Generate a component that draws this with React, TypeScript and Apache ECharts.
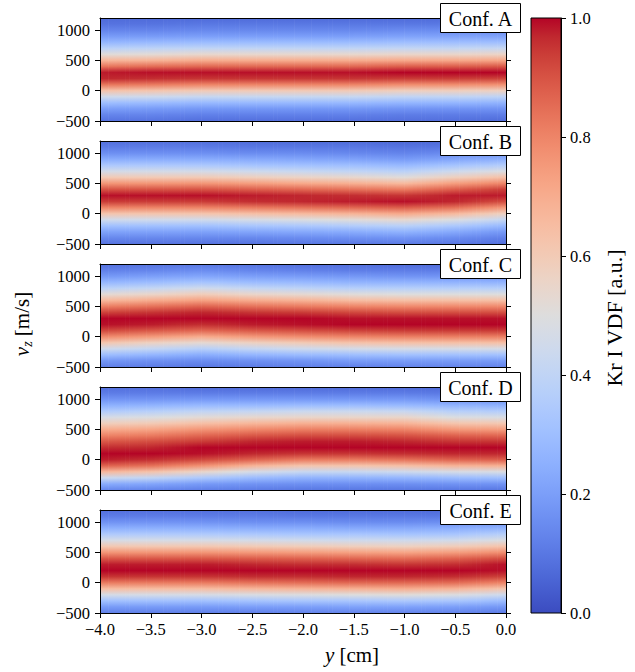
import React, { useEffect, useRef } from "react";
import * as echarts from "echarts";

// ---------------- data ----------------
// positions along y [cm] where the VDF columns were read
const xPositions = [-4, -3.5, -3, -2.5, -2, -1.5, -1, -0.5, 0];
// velocity levels v_z [m/s] (each column lists values from -500 up to 1200)
const vLevels = [-500, -400, -300, -200, -100, 0, 100, 200, 300, 400, 500, 600, 700, 800, 900, 1000, 1100, 1200];

const confNames = ["Conf. A", "Conf. B", "Conf. C", "Conf. D", "Conf. E"];

const confA = [
  [0.09, 0.13, 0.20, 0.30, 0.45, 0.63, 0.83, 0.97, 0.98, 0.83, 0.67, 0.51, 0.38, 0.27, 0.19, 0.13, 0.09, 0.07],
  [0.09, 0.13, 0.19, 0.29, 0.44, 0.62, 0.82, 0.96, 0.99, 0.85, 0.68, 0.52, 0.39, 0.28, 0.19, 0.13, 0.09, 0.07],
  [0.08, 0.12, 0.18, 0.28, 0.42, 0.60, 0.80, 0.95, 0.99, 0.86, 0.70, 0.54, 0.40, 0.29, 0.20, 0.14, 0.10, 0.07],
  [0.08, 0.12, 0.18, 0.28, 0.42, 0.60, 0.80, 0.95, 0.99, 0.86, 0.70, 0.54, 0.40, 0.29, 0.20, 0.14, 0.10, 0.07],
  [0.08, 0.12, 0.18, 0.28, 0.42, 0.60, 0.80, 0.95, 0.99, 0.86, 0.70, 0.54, 0.40, 0.29, 0.20, 0.14, 0.10, 0.07],
  [0.08, 0.12, 0.18, 0.28, 0.42, 0.60, 0.80, 0.95, 0.99, 0.86, 0.70, 0.54, 0.40, 0.29, 0.20, 0.14, 0.10, 0.07],
  [0.08, 0.11, 0.17, 0.27, 0.40, 0.58, 0.78, 0.94, 1.00, 0.88, 0.71, 0.55, 0.41, 0.30, 0.21, 0.15, 0.10, 0.07],
  [0.08, 0.11, 0.17, 0.27, 0.40, 0.58, 0.78, 0.94, 1.00, 0.88, 0.71, 0.55, 0.41, 0.30, 0.21, 0.15, 0.10, 0.07],
  [0.07, 0.11, 0.17, 0.26, 0.39, 0.57, 0.77, 0.93, 1.00, 0.89, 0.72, 0.56, 0.42, 0.30, 0.21, 0.15, 0.10, 0.07],
];

const confB = [
  [0.09, 0.14, 0.21, 0.31, 0.45, 0.62, 0.80, 0.94, 0.99, 0.90, 0.76, 0.60, 0.46, 0.34, 0.24, 0.16, 0.11, 0.08],
  [0.09, 0.14, 0.21, 0.31, 0.45, 0.62, 0.80, 0.94, 0.99, 0.90, 0.76, 0.60, 0.46, 0.34, 0.24, 0.16, 0.11, 0.08],
  [0.09, 0.14, 0.21, 0.31, 0.45, 0.62, 0.80, 0.94, 0.99, 0.90, 0.76, 0.60, 0.46, 0.34, 0.24, 0.16, 0.11, 0.08],
  [0.09, 0.14, 0.22, 0.33, 0.47, 0.64, 0.82, 0.96, 0.98, 0.88, 0.74, 0.58, 0.44, 0.32, 0.23, 0.15, 0.10, 0.07],
  [0.10, 0.15, 0.23, 0.34, 0.49, 0.66, 0.84, 0.97, 0.97, 0.86, 0.71, 0.56, 0.42, 0.31, 0.22, 0.15, 0.10, 0.07],
  [0.10, 0.16, 0.24, 0.36, 0.51, 0.68, 0.86, 0.98, 0.96, 0.84, 0.69, 0.54, 0.40, 0.30, 0.21, 0.14, 0.10, 0.07],
  [0.11, 0.17, 0.26, 0.38, 0.54, 0.71, 0.88, 0.99, 0.95, 0.82, 0.66, 0.51, 0.38, 0.28, 0.19, 0.13, 0.09, 0.06],
  [0.10, 0.15, 0.23, 0.34, 0.49, 0.66, 0.84, 0.97, 0.98, 0.88, 0.74, 0.58, 0.44, 0.32, 0.22, 0.15, 0.10, 0.07],
  [0.08, 0.12, 0.18, 0.28, 0.41, 0.57, 0.75, 0.91, 0.98, 0.94, 0.80, 0.64, 0.49, 0.36, 0.25, 0.17, 0.11, 0.07],
];

const confC = [
  [0.12, 0.18, 0.30, 0.45, 0.62, 0.79, 0.92, 0.99, 1.00, 0.93, 0.81, 0.66, 0.52, 0.38, 0.27, 0.18, 0.12, 0.08],
  [0.11, 0.16, 0.27, 0.41, 0.57, 0.75, 0.89, 0.98, 1.00, 0.95, 0.84, 0.70, 0.55, 0.41, 0.29, 0.20, 0.13, 0.09],
  [0.10, 0.15, 0.24, 0.37, 0.53, 0.70, 0.86, 0.96, 1.00, 0.97, 0.87, 0.73, 0.59, 0.45, 0.32, 0.22, 0.15, 0.10],
  [0.11, 0.16, 0.27, 0.41, 0.57, 0.75, 0.89, 0.98, 1.00, 0.95, 0.84, 0.70, 0.55, 0.41, 0.29, 0.20, 0.13, 0.09],
  [0.12, 0.17, 0.29, 0.44, 0.60, 0.78, 0.91, 0.99, 1.00, 0.94, 0.82, 0.68, 0.53, 0.39, 0.28, 0.19, 0.12, 0.08],
  [0.12, 0.19, 0.30, 0.46, 0.63, 0.80, 0.93, 1.00, 0.99, 0.92, 0.80, 0.65, 0.51, 0.37, 0.26, 0.18, 0.11, 0.08],
  [0.13, 0.19, 0.31, 0.47, 0.64, 0.81, 0.94, 1.00, 0.99, 0.91, 0.79, 0.64, 0.50, 0.37, 0.26, 0.17, 0.11, 0.07],
  [0.13, 0.19, 0.31, 0.47, 0.64, 0.81, 0.94, 1.00, 0.99, 0.91, 0.79, 0.64, 0.50, 0.37, 0.26, 0.17, 0.11, 0.07],
  [0.13, 0.19, 0.31, 0.47, 0.64, 0.81, 0.94, 1.00, 0.99, 0.91, 0.79, 0.64, 0.50, 0.37, 0.26, 0.17, 0.11, 0.07],
];

const confD = [
  [0.14, 0.24, 0.44, 0.67, 0.87, 0.98, 1.00, 0.96, 0.89, 0.80, 0.70, 0.58, 0.47, 0.35, 0.25, 0.17, 0.11, 0.08],
  [0.13, 0.22, 0.40, 0.63, 0.84, 0.96, 1.00, 0.97, 0.91, 0.82, 0.72, 0.60, 0.49, 0.37, 0.26, 0.17, 0.11, 0.08],
  [0.12, 0.19, 0.34, 0.55, 0.77, 0.92, 0.99, 1.00, 0.94, 0.86, 0.76, 0.64, 0.52, 0.40, 0.28, 0.18, 0.11, 0.07],
  [0.11, 0.17, 0.29, 0.47, 0.68, 0.87, 0.97, 1.00, 0.97, 0.89, 0.79, 0.67, 0.54, 0.41, 0.28, 0.18, 0.11, 0.07],
  [0.10, 0.16, 0.26, 0.42, 0.62, 0.82, 0.95, 1.00, 0.98, 0.91, 0.81, 0.69, 0.55, 0.43, 0.29, 0.18, 0.11, 0.07],
  [0.10, 0.16, 0.26, 0.42, 0.62, 0.82, 0.95, 1.00, 0.98, 0.91, 0.81, 0.69, 0.55, 0.43, 0.29, 0.18, 0.11, 0.07],
  [0.10, 0.16, 0.27, 0.44, 0.64, 0.84, 0.96, 1.00, 0.97, 0.90, 0.80, 0.68, 0.55, 0.42, 0.28, 0.18, 0.11, 0.07],
  [0.10, 0.17, 0.29, 0.47, 0.68, 0.87, 0.97, 1.00, 0.95, 0.87, 0.75, 0.62, 0.49, 0.37, 0.26, 0.16, 0.10, 0.07],
  [0.10, 0.17, 0.30, 0.48, 0.69, 0.88, 0.97, 1.00, 0.95, 0.86, 0.74, 0.61, 0.48, 0.36, 0.25, 0.16, 0.10, 0.07],
];

const confE = [
  [0.12, 0.19, 0.31, 0.47, 0.65, 0.82, 0.95, 1.00, 0.98, 0.89, 0.76, 0.61, 0.47, 0.35, 0.25, 0.17, 0.11, 0.08],
  [0.12, 0.19, 0.31, 0.47, 0.65, 0.82, 0.95, 1.00, 0.98, 0.89, 0.76, 0.61, 0.47, 0.35, 0.25, 0.17, 0.11, 0.08],
  [0.12, 0.19, 0.31, 0.47, 0.65, 0.82, 0.95, 1.00, 0.98, 0.89, 0.76, 0.61, 0.47, 0.35, 0.25, 0.17, 0.11, 0.08],
  [0.12, 0.20, 0.32, 0.48, 0.67, 0.84, 0.96, 1.00, 0.97, 0.88, 0.75, 0.60, 0.46, 0.34, 0.24, 0.16, 0.11, 0.08],
  [0.13, 0.20, 0.33, 0.49, 0.68, 0.85, 0.96, 1.00, 0.96, 0.87, 0.74, 0.59, 0.45, 0.33, 0.24, 0.16, 0.10, 0.07],
  [0.13, 0.21, 0.33, 0.50, 0.69, 0.86, 0.97, 1.00, 0.96, 0.86, 0.73, 0.58, 0.44, 0.33, 0.23, 0.15, 0.10, 0.07],
  [0.13, 0.21, 0.34, 0.51, 0.70, 0.86, 0.97, 1.00, 0.95, 0.85, 0.72, 0.57, 0.44, 0.32, 0.23, 0.15, 0.10, 0.07],
  [0.13, 0.20, 0.33, 0.49, 0.68, 0.85, 0.96, 1.00, 0.96, 0.87, 0.74, 0.59, 0.45, 0.33, 0.24, 0.16, 0.10, 0.07],
  [0.11, 0.18, 0.29, 0.44, 0.62, 0.80, 0.93, 0.99, 0.99, 0.91, 0.78, 0.63, 0.49, 0.37, 0.26, 0.17, 0.11, 0.08],
];

const confData = [confA, confB, confC, confD, confE];

const xTicks = [-4, -3.5, -3, -2.5, -2, -1.5, -1, -0.5, 0];
const yTicks = [-500, 0, 500, 1000];
const cbTicks = [0, 0.2, 0.4, 0.6, 0.8, 1.0];

// ---------------- style ----------------
const COOLWARM = [
  [59, 76, 192], [68, 90, 204], [77, 104, 215], [87, 117, 225], [98, 130, 234], [108, 142, 241],
  [119, 154, 247], [130, 165, 251], [141, 176, 254], [152, 185, 255], [163, 194, 255], [174, 201, 253],
  [184, 208, 249], [194, 213, 244], [204, 217, 238], [213, 219, 230], [221, 221, 221], [229, 216, 209],
  [236, 211, 197], [241, 204, 184], [245, 196, 172], [247, 187, 160], [247, 177, 148], [247, 166, 135],
  [244, 154, 123], [241, 141, 111], [236, 127, 99], [229, 112, 88], [222, 96, 77], [213, 80, 66],
  [203, 62, 56], [192, 40, 47], [180, 4, 38],
];

function cmap(v: number): string {
  const t = Math.max(0, Math.min(1, v)) * (COOLWARM.length - 1);
  const i = Math.min(COOLWARM.length - 2, Math.floor(t));
  const f = t - i;
  const a = COOLWARM[i];
  const b = COOLWARM[i + 1];
  const c = a.map((av, k) => Math.round(av + (b[k] - av) * f));
  return `rgb(${c[0]},${c[1]},${c[2]})`;
}

const FONT = "Liberation Serif";
const PANEL_LEFT = 100;
const PANEL_WIDTH = 406;
const PANEL_HEIGHT = 103;
const PANEL_TOPS = [18, 141, 264, 387, 510];
const STRIPS = 12; // rendering sub-strips between two measured columns

const fmtX = (v: number) => (v < 0 ? "\u2212" : "") + Math.abs(v).toFixed(1);
const fmtY = (v: number) => (v < 0 ? "\u2212" : "") + String(Math.abs(v));

function buildOption() {
  const grid: any[] = [];
  const xAxis: any[] = [];
  const yAxis: any[] = [];
  const series: any[] = [];
  const graphic: any[] = [];

  const lineStyle = { color: "#000", width: 1 };
  const labelStyle = { fontFamily: FONT, fontSize: 16.5, color: "#000" };
  const vMin = vLevels[0];
  const vMax = vLevels[vLevels.length - 1];

  PANEL_TOPS.forEach((top, p) => {
    grid.push({ left: PANEL_LEFT, top, width: PANEL_WIDTH, height: PANEL_HEIGHT, containLabel: false });
    xAxis.push({
      type: "value", gridIndex: p, min: -4, max: 0, interval: 0.5, position: "bottom", z: 10,
      axisLine: { show: true, onZero: false, lineStyle },
      axisTick: { show: true, inside: false, length: 5, lineStyle },
      axisLabel: { show: p === 4, margin: 8, formatter: fmtX, customValues: xTicks, ...labelStyle },
      splitLine: { show: false },
    });
    xAxis.push({
      type: "value", gridIndex: p, min: -4, max: 0, position: "top", z: 10,
      axisLine: { show: true, onZero: false, lineStyle },
      axisTick: { show: false }, axisLabel: { show: false }, splitLine: { show: false },
    });
    yAxis.push({
      type: "value", gridIndex: p, min: -500, max: 1200, position: "left", z: 10,
      axisLine: { show: true, onZero: false, lineStyle },
      axisTick: { show: true, inside: false, length: 5, lineStyle, customValues: yTicks },
      axisLabel: { show: true, margin: 10, formatter: fmtY, customValues: yTicks, ...labelStyle },
      splitLine: { show: false },
    });
    yAxis.push({
      type: "value", gridIndex: p, min: -500, max: 1200, position: "right", z: 10,
      axisLine: { show: true, onZero: false, lineStyle },
      axisTick: { show: true, inside: false, length: 5, lineStyle, customValues: yTicks },
      axisLabel: { show: false }, splitLine: { show: false },
    });

    const cols = confData[p];
    // one data item per pair of neighbouring measured columns
    const data: number[][] = [];
    for (let i = 0; i < xPositions.length - 1; i++) {
      data.push([xPositions[i], vMin, xPositions[i + 1], vMax, i]);
    }
    series.push({
      type: "custom", name: confNames[p], xAxisIndex: 2 * p, yAxisIndex: 2 * p, clip: true, silent: true,
      encode: { x: [0, 2], y: [1, 3] },
      data,
      renderItem: (params: any, api: any) => {
        const xa = api.value(0);
        const xb = api.value(2);
        const i = api.value(4);
        const colA = cols[i];
        const colB = cols[i + 1];
        const pTop = api.coord([xa, vMax]);
        const pBot = api.coord([xb, vMin]);
        const x0 = pTop[0];
        const w = pBot[0] - pTop[0];
        const children: any[] = [];
        for (let k = 0; k < STRIPS; k++) {
          const t = (k + 0.5) / STRIPS;
          const stops = vLevels.map((v, j) => ({
            offset: (vMax - v) / (vMax - vMin),
            color: cmap(colA[j] * (1 - t) + colB[j] * t),
          })).reverse();
          children.push({
            type: "rect",
            shape: { x: x0 + (w * k) / STRIPS - 0.3, y: pTop[1], width: w / STRIPS + 0.6, height: pBot[1] - pTop[1] },
            style: { fill: new echarts.graphic.LinearGradient(0, 0, 0, 1, stops) },
          });
        }
        return { type: "group", children };
      },
    });

    // configuration label box
    graphic.push({
      type: "rect", z: 100,
      shape: { x: 440.5, y: top - 14.5, width: 80, height: 29 },
      style: { fill: "#fff", stroke: "#000", lineWidth: 1 },
    });
    graphic.push({
      type: "text", z: 101, x: 480.5, y: top + 0.5,
      style: { text: confNames[p], fontFamily: FONT, fontSize: 20, fill: "#000", align: "center", verticalAlign: "middle" },
    });
  });

  // colour bar
  grid.push({ left: 531, top: 18, width: 30, height: 595 });
  xAxis.push({ type: "value", gridIndex: 5, min: 0, max: 1, show: false });
  yAxis.push({
    type: "value", gridIndex: 5, min: 0, max: 1, interval: 0.2, position: "right", z: 10,
    axisLine: { show: true, onZero: false, lineStyle },
    axisTick: { show: true, inside: false, length: 5, lineStyle, customValues: cbTicks },
    axisLabel: { show: true, margin: 9, formatter: (v: number) => v.toFixed(1), customValues: cbTicks, ...labelStyle },
    splitLine: { show: false },
  });
  series.push({
    type: "custom", name: "colorbar", xAxisIndex: 10, yAxisIndex: 10, silent: true,
    data: [[0, 0, 1, 1]],
    renderItem: (params: any, api: any) => {
      const a = api.coord([api.value(0), api.value(3)]);
      const b = api.coord([api.value(2), api.value(1)]);
      const stops = COOLWARM.map((c, k) => ({
        offset: 1 - k / (COOLWARM.length - 1),
        color: `rgb(${c[0]},${c[1]},${c[2]})`,
      })).reverse();
      return {
        type: "rect",
        shape: { x: a[0], y: a[1], width: b[0] - a[0], height: b[1] - a[1] },
        style: { fill: new echarts.graphic.LinearGradient(0, 0, 0, 1, stops), stroke: "#000", lineWidth: 1 },
      };
    },
  });

  // axis titles
  graphic.push({
    type: "text", x: 22, y: 324, rotation: Math.PI / 2,
    style: {
      text: "{i|v}{s|z}{n| [m/s]}", fill: "#000", align: "center", verticalAlign: "middle",
      fontFamily: FONT, fontSize: 21,
      rich: {
        i: { fontFamily: FONT, fontSize: 21, fontStyle: "italic", fill: "#000" },
        s: { fontFamily: FONT, fontSize: 14, fontStyle: "italic", fill: "#000", padding: [10, 0, 0, 0] },
        n: { fontFamily: FONT, fontSize: 21, fill: "#000" },
      },
    },
  });
  graphic.push({
    type: "text", x: 352, y: 655,
    style: {
      text: "{i|y}{n| [cm]}", fill: "#000", align: "center", verticalAlign: "middle",
      fontFamily: FONT, fontSize: 21,
      rich: {
        i: { fontFamily: FONT, fontSize: 21, fontStyle: "italic", fill: "#000" },
        n: { fontFamily: FONT, fontSize: 21, fill: "#000" },
      },
    },
  });
  graphic.push({
    type: "text", x: 614, y: 318, rotation: Math.PI / 2,
    style: {
      text: "Kr I VDF [a.u.]", fill: "#000", align: "center", verticalAlign: "middle",
      fontFamily: FONT, fontSize: 22,
    },
  });

  return {
    animation: false,
    backgroundColor: "#fff",
    grid, xAxis, yAxis, series, graphic,
  };
}

export default function App() {
  const ref = useRef<HTMLDivElement>(null);
  useEffect(() => {
    if (!ref.current) return;
    const chart = echarts.init(ref.current, undefined, { renderer: "svg" });
    chart.setOption(buildOption() as any);
    return () => chart.dispose();
  }, []);
  return (
    <div
      ref={ref}
      style={{ position: "fixed", left: 0, top: 0, width: 635, height: 672, background: "#fff" }}
    />
  );
}
